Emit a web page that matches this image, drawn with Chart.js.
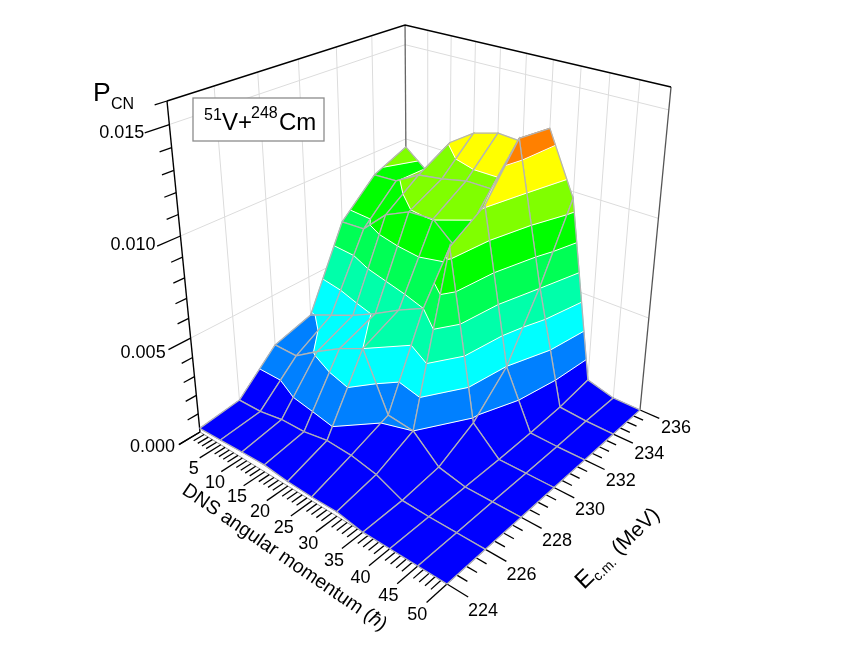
<!DOCTYPE html>
<html>
<head>
<meta charset="utf-8">
<script src="https://cdn.jsdelivr.net/npm/chart.js@4/dist/chart.umd.min.js"></script>
<style>
html,body{margin:0;background:#fff;}
canvas{display:block;}
</style>
</head>
<body>
<canvas id="surface" width="850" height="654"></canvas>
<script>
const angularMomentum = [0,5,10,15,20,25,30,35,40,45,50];
const energies = [224,226,228,230,232,234,236];

const pcn224 = [0.0002,0.00026,0.00033,0.00037,0.00024,0.0002,0.00023,0,0,0,0];
const pcn226 = [0.00045,0.00048,0.00071,0.00074,0.00097,0.0009,0.00063,0.00005,0,0,0];
const pcn228 = [0.00232,0.00231,0.00315,0.0039,0.0045,0.00165,0.0015,0.0003,0,0,0];
const pcn230 = [0.00288,0.00343,0.00397,0.00462,0.00536,0.006,0.00952,0.00126,0,0,0];
const pcn232 = [0.00707,0.00715,0.00835,0.00895,0.00903,0.00793,0.0106,0.00298,0.00004,0,0];
const pcn234 = [0.0088,0.00888,0.0096,0.00981,0.01011,0.01013,0.01298,0.00606,0.00014,0.00003,0];
const pcn236 = [0.00956,0.00857,0.01055,0.01141,0.01178,0.01169,0.01274,0.00967,0.00041,0.00002,0];
const pcnRows = [pcn224,pcn226,pcn228,pcn230,pcn232,pcn234,pcn236];

const zLabels = ["0.000","0.005","0.010","0.015"];
const lLabels = ["5","10","15","20","25","30","35","40","45","50"];
const eLabels = ["224","226","228","230","232","234","236"];

const levels = [0.0015,0.003,0.0045,0.006,0.0075,0.009,0.0105,0.012];
const bandColors = ["#0000ff","#0080ff","#00ffff","#00ffaa","#00ff55","#00ff00","#80ff00","#ffff00","#ff8000"];

const zMax = 0.016;

// camera fitted to the box corners of the picture
function project(L,E,z){
let u = L/50, v = (E-224)/12, w = z/zMax;
let d = 1 - 0.1719*u + 0.2023*v - 0.1289*w;
return {
x:(200 + 170.16*u + 289.3*v - 54.53*w)/d,
y:(432 + 51.61*u - 61.15*v - 344.02*w)/d
};
}

let datasets = [];

function addLine(pts,color,width){
datasets.push({
data:pts.map(p=>project(p.L,p.E,p.z)),
showLine:true,
fill:false,
tension:0,
pointRadius:0,
borderColor:color,
borderWidth:width
});
}

function addPolygon(pts,color){
let closed = pts.concat([pts[0]]);
datasets.push({
data:closed.map(p=>project(p.L,p.E,p.z)),
showLine:true,
fill:"shape",
tension:0,
pointRadius:0,
backgroundColor:color,
borderColor:color,
borderWidth:0.6
});
}

function lerpNode(a,b,level){
let t = (level-a.z)/(b.z-a.z);
return {L:a.L+(b.L-a.L)*t,E:a.E+(b.E-a.E)*t,z:level};
}

function clipBelow(poly,level,keepBelow){
let out = [];
poly.forEach((a,i)=>{
let b = poly[(i+1)%poly.length];
let aIn = keepBelow ? a.z<=level : a.z>=level;
let bIn = keepBelow ? b.z<=level : b.z>=level;
if(aIn) out.push(a);
if(aIn!==bIn) out.push(lerpNode(a,b,level));
});
return out;
}

function addCell(i,j){
let cell = [
{L:angularMomentum[i],E:energies[j],z:pcnRows[j][i]},
{L:angularMomentum[i+1],E:energies[j],z:pcnRows[j][i+1]},
{L:angularMomentum[i+1],E:energies[j+1],z:pcnRows[j+1][i+1]},
{L:angularMomentum[i],E:energies[j+1],z:pcnRows[j+1][i]}
];

bandColors.forEach((color,b)=>{
let poly = cell;
if(b>0) poly = clipBelow(poly,levels[b-1],false);
if(b<levels.length && poly.length) poly = clipBelow(poly,levels[b],true);
if(poly.length>2) addPolygon(poly,color);
});

levels.forEach(level=>{
let hits = [];
cell.forEach((a,k)=>{
let b = cell[(k+1)%4];
if((a.z<level)!==(b.z<level)) hits.push(lerpNode(a,b,level));
});
for(let k=0;k+1<hits.length;k+=2){
addLine([hits[k],hits[k+1]],"#ffffff",1);
}
});

addLine(cell.concat([cell[0]]),"#b4b4b4",1.3);
}

function addWalls(){
const wall = "#dcdcdc";
[226,228,230,232,234].forEach(E=>addLine([{L:0,E:E,z:0},{L:0,E:E,z:zMax}],wall,1));
[5,10,15,20,25,30,35,40,45].forEach(L=>addLine([{L:L,E:236,z:0},{L:L,E:236,z:zMax}],wall,1));
[0.005,0.01,0.015].forEach(z=>{
addLine([{L:0,E:224,z:z},{L:0,E:236,z:z}],wall,1);
addLine([{L:0,E:236,z:z},{L:50,E:236,z:z}],wall,1);
});
addLine([{L:0,E:236,z:0},{L:0,E:236,z:zMax}],"#666666",1.3);
addLine([{L:50,E:236,z:0},{L:50,E:236,z:zMax}],"#555555",1.3);
addLine([{L:0,E:224,z:zMax},{L:0,E:236,z:zMax},{L:50,E:236,z:zMax}],"#000000",1.4);
}

function addAxes(){
const ink = "#000000";
addLine([{L:0,E:224,z:0},{L:0,E:224,z:zMax}],ink,1.4);
addLine([{L:0,E:224,z:0},{L:50,E:224,z:0},{L:50,E:236,z:0}],"#999999",1);

for(let k=0;k<=16;k++){
let z = k*0.001;
let len = k%5===0 ? 1 : 0.5;
addLine([{L:0,E:224,z:z},{L:0,E:224-len,z:z}],ink,1.3);
}
for(let L=0;L<=50;L++){
let len = L%5===0 ? 1 : 0.5;
addLine([{L:L,E:224,z:0},{L:L,E:224-len,z:0}],ink,1.3);
}
for(let E=224;E<=236;E+=0.5){
let len = (E-224)%2===0 ? 3.5 : 1.75;
addLine([{L:50,E:E,z:0},{L:50+len,E:E,z:0}],ink,1.3);
}
}

addWalls();
addAxes();
// far corner first so nearer cells paint over
for(let i=0;i<angularMomentum.length-1;i++){
for(let j=energies.length-2;j>=0;j--){
addCell(i,j);
}
}
// first dataset is drawn last by Chart.js
datasets.reverse();

const FONT = '"Liberation Sans", Arial, sans-serif';

function put(ctx,text,x,y,size,align,base){
ctx.font = size+"px "+FONT;
ctx.textAlign = align||"left";
ctx.textBaseline = base||"alphabetic";
ctx.fillText(text,x,y);
}

const textPlugin = {
id:"texts",
afterDraw(chart){
const ctx = chart.ctx;
const sx = chart.scales.x, sy = chart.scales.y;
ctx.save();
ctx.fillStyle = "#000";

zLabels.forEach((t,k)=>{
let p = project(0,224,parseFloat(t));
put(ctx,t,sx.getPixelForValue(p.x)-25,sy.getPixelForValue(p.y)+(k<2?15:9),18,"right","middle");
});
lLabels.forEach(t=>{
let L = parseFloat(t);
let p = project(L,224,0);
put(ctx,t,sx.getPixelForValue(p.x)-27-(L-5)*0.06,sy.getPixelForValue(p.y)+24+(L-5)*0.15,18,"center","middle");
});
eLabels.forEach(t=>{
let p = project(50,parseFloat(t),0);
put(ctx,t,sx.getPixelForValue(p.x)+36,sy.getPixelForValue(p.y)+27-(parseFloat(t)-224)*0.75,18,"center","middle");
});

put(ctx,"P",93,101,26.5);
put(ctx,"CN",111,109,16);

ctx.fillStyle = "#fff";
ctx.strokeStyle = "#8c8c8c";
ctx.lineWidth = 1.3;
ctx.fillRect(193,98,131,43);
ctx.strokeRect(193,98,131,43);
ctx.fillStyle = "#000";
put(ctx,"51",204,120,16);
put(ctx,"V+",222,130,24);
put(ctx,"248",251,118,16);
put(ctx,"Cm",279,130,24);

// rotated axis titles
ctx.save();
ctx.translate(181,493);
ctx.rotate(34.5*Math.PI/180);
put(ctx,"DNS angular momentum (",0,0,19.5);
let w1 = ctx.measureText("DNS angular momentum (").width;
ctx.font = "italic 19.5px "+FONT;
ctx.fillText("ħ",w1,0);
let w2 = ctx.measureText("ħ").width;
put(ctx,")",w1+w2,0,19.5);
ctx.restore();

ctx.save();
ctx.translate(584,590);
ctx.rotate(-44*Math.PI/180);
put(ctx,"E",0,0,24);
let we = ctx.measureText("E").width;
put(ctx,"c.m.",we,4,14);
let wc = ctx.measureText("c.m.").width;
put(ctx,"(MeV)",we+wc+7,0,21);
ctx.restore();

ctx.restore();
}
};

new Chart(document.getElementById("surface"),{
type:"scatter",
data:{datasets:datasets},
options:{
responsive:false,
animation:false,
events:[],
layout:{padding:0},
plugins:{legend:{display:false},tooltip:{enabled:false}},
scales:{
x:{type:"linear",min:0,max:850,display:false},
y:{type:"linear",min:0,max:654,reverse:true,display:false}
}
},
plugins:[textPlugin]
});
</script>
</body>
</html>
